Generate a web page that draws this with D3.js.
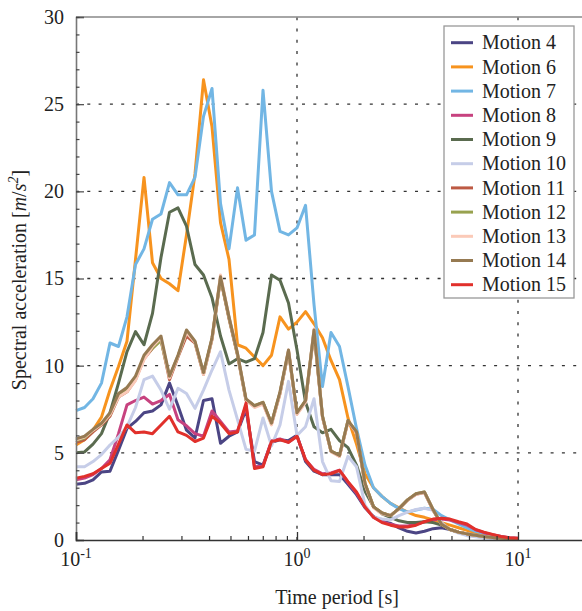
<!DOCTYPE html>
<html>
<head>
<meta charset="utf-8">
<script src="https://cdn.jsdelivr.net/npm/d3@7"></script>
<style>
  body { margin: 0; background: #fff; }
  svg { display: block; }
  svg text { font-family: "Liberation Serif", "DejaVu Serif", serif !important; fill: #222; }
</style>
</head>
<body>
<svg id="chart" width="582" height="611" style="font-family: 'Liberation Serif', 'DejaVu Serif', serif;"></svg>
<script>
// Spectral periods [s], log-spaced from 0.1 s to 10 s
const periods = [
  0.1000, 0.1093, 0.1194, 0.1304, 0.1425, 0.1557, 0.1701, 0.1859, 0.2031, 0.2219,
  0.2424, 0.2649, 0.2894, 0.3162, 0.3455, 0.3775, 0.4125, 0.4507, 0.4924, 0.5380,
  0.5878, 0.6422, 0.7017, 0.7667, 0.8377, 0.9152, 1.000, 1.093, 1.194, 1.304,
  1.425, 1.557, 1.701, 1.859, 2.031, 2.219, 2.424, 2.649, 2.894, 3.162,
  3.455, 3.775, 4.125, 4.507, 4.924, 5.380, 5.878, 6.422, 7.017, 7.667,
  8.377, 9.152, 10.00
];

// Spectral acceleration [m/s^2] for each ground motion
const motion4 = [
  3.2, 3.25, 3.45, 3.9, 3.95, 5.15, 6.4, 6.8, 7.3, 7.4,
  7.75, 9.0, 7.7, 6.3, 5.85, 8.0, 8.1, 5.55, 5.95, 6.2,
  7.5, 4.5, 4.3, 5.6, 5.75, 5.7, 6.0, 4.5, 3.95, 3.75,
  3.75, 3.75, 3.2, 2.6, 1.85, 1.35, 1.1, 0.95, 0.7, 0.5,
  0.4, 0.5, 0.65, 0.7, 0.6, 0.45, 0.35, 0.25, 0.18, 0.12,
  0.08, 0.05, 0.03
];
const motion6 = [
  5.45, 5.75, 6.3, 7.05, 8.6, 9.95, 11.4, 16.1, 20.8, 15.9,
  15.0, 14.7, 14.3, 17.5, 21.0, 26.4, 23.7, 18.2, 16.1, 11.2,
  11.0, 10.5, 10.0, 10.6, 12.8, 12.1, 12.5, 13.1, 12.4, 11.6,
  10.3, 9.2, 7.0, 5.5, 3.8, 3.0, 2.5, 2.1, 1.85, 1.6,
  1.4, 1.3, 1.15, 1.0, 0.85, 0.7, 0.55, 0.42, 0.3, 0.22,
  0.15, 0.1, 0.07
];
const motion7 = [
  7.42, 7.6, 8.1, 9.0, 11.3, 11.1, 12.8, 15.8, 16.7, 18.4,
  18.7, 20.5, 19.8, 19.8, 20.8, 24.3, 25.9, 19.3, 16.7, 20.2,
  17.2, 17.5, 25.8, 20.0, 17.7, 17.5, 17.9, 19.2, 13.5, 8.8,
  11.9, 11.1, 8.8, 6.4, 4.3, 3.0, 2.5, 2.1, 1.8, 1.6,
  1.72, 1.82, 1.76, 1.4, 1.15, 0.92, 0.7, 0.5, 0.38, 0.28,
  0.2, 0.12, 0.08
];
const motion8 = [
  3.45, 3.55, 3.75, 4.1, 4.6, 6.1, 7.75, 8.0, 8.2, 7.8,
  8.0, 8.35, 6.9, 6.55, 6.1, 5.95, 7.4, 6.8, 6.2, 6.25,
  7.7, 4.2, 4.25, 5.7, 5.8, 5.6, 5.95, 4.6, 4.05, 3.8,
  3.85, 4.0, 3.3, 2.7, 1.9, 1.3, 1.05, 0.9, 0.8, 0.8,
  0.9, 1.05, 1.15, 1.2, 1.15, 1.0, 0.85, 0.6, 0.42, 0.3,
  0.2, 0.13, 0.1
];
const motion9 = [
  5.0, 5.05, 5.5, 6.1, 7.3, 9.0, 10.8, 11.95, 11.2, 13.0,
  16.2, 18.8, 19.05, 18.0, 15.8, 15.2, 13.9, 11.7, 10.1, 10.4,
  10.2, 10.4, 11.9, 15.2, 14.9, 13.6, 10.9, 7.9, 6.5, 6.15,
  6.35, 5.7, 5.3, 4.3, 2.8, 1.9, 1.5, 1.3, 1.1, 1.0,
  1.0, 1.05, 1.0, 0.85, 0.6, 0.45, 0.35, 0.25, 0.18, 0.12,
  0.08, 0.05, 0.03
];
const motion10 = [
  4.2, 4.2, 4.5, 4.9, 5.45, 5.9, 6.5, 7.6, 9.2, 9.4,
  8.6, 7.5, 8.7, 8.4, 7.55, 8.6, 9.75, 10.8, 8.6, 6.9,
  5.2, 5.1, 7.0, 5.4, 6.6, 9.1, 6.0, 6.5, 8.1, 4.5,
  3.4, 3.35, 4.8, 4.2, 2.0, 1.3, 1.2, 1.15, 1.4, 1.6,
  1.75, 1.82, 1.7, 1.0, 0.6, 0.4, 0.25, 0.18, 0.12, 0.08,
  0.05, 0.04, 0.03
];
const motion11 = [
  5.6, 5.75, 6.2, 6.6, 7.1, 8.2, 8.5, 9.2, 10.4, 11.0,
  11.5, 9.2, 10.5, 11.7, 11.3, 9.5, 11.5, 15.0, 12.7, 10.6,
  8.0, 7.65, 7.85, 6.65, 8.4, 10.8, 7.25, 7.95, 11.9, 7.05,
  5.1, 4.8, 6.8, 6.15, 3.2, 1.9, 1.55, 1.4, 1.8, 2.28,
  2.62, 2.72, 1.72, 0.9, 0.6, 0.45, 0.35, 0.27, 0.2, 0.15,
  0.1, 0.07, 0.05
];
const motion12 = [
  5.7, 5.85, 6.3, 6.65, 7.2, 8.3, 8.65, 9.3, 10.5, 11.0,
  11.45, 9.35, 10.55, 11.95, 11.35, 9.55, 11.55, 15.05, 12.75, 10.65,
  8.05, 7.7, 7.9, 6.7, 8.45, 10.85, 7.3, 8.0, 12.0, 7.1,
  5.1, 4.85, 6.85, 6.2, 3.25, 1.9, 1.55, 1.4, 1.8, 2.3,
  2.65, 2.75, 1.75, 0.9, 0.6, 0.45, 0.35, 0.27, 0.2, 0.15,
  0.1, 0.07, 0.05
];
const motion13 = [
  5.75, 5.9, 6.3, 6.65, 7.2, 8.2, 8.5, 9.15, 10.35, 11.1,
  11.6, 9.3, 10.55, 11.9, 11.35, 9.5, 11.5, 15.2, 12.8, 10.7,
  8.05, 7.6, 7.8, 6.6, 8.4, 10.9, 7.2, 7.9, 12.1, 7.05,
  5.05, 4.8, 6.8, 6.15, 3.2, 1.85, 1.5, 1.4, 1.78, 2.28,
  2.62, 2.72, 1.72, 0.9, 0.6, 0.45, 0.35, 0.27, 0.2, 0.15,
  0.1, 0.07, 0.05
];
const motion14 = [
  5.8, 5.95, 6.35, 6.7, 7.3, 8.4, 8.75, 9.4, 10.6, 11.2,
  11.7, 9.4, 10.6, 12.05, 11.4, 9.6, 11.6, 15.1, 12.8, 10.7,
  8.1, 7.7, 7.9, 6.7, 8.5, 10.9, 7.3, 8.0, 12.05, 7.1,
  5.1, 4.85, 6.85, 6.2, 3.25, 1.9, 1.55, 1.4, 1.8, 2.3,
  2.65, 2.75, 1.75, 0.9, 0.6, 0.45, 0.35, 0.27, 0.2, 0.15,
  0.1, 0.07, 0.05
];
const motion15 = [
  3.55, 3.65, 3.8, 4.1, 4.4, 5.5, 6.6, 6.15, 6.2, 6.1,
  6.6, 7.1, 6.2, 6.0, 5.65, 5.85, 7.1, 6.7, 6.1, 6.2,
  7.85, 4.1, 4.2, 5.65, 5.75, 5.6, 5.95, 4.6, 4.0, 3.75,
  3.8, 4.0, 3.35, 2.75, 1.9, 1.3, 1.0, 0.85, 0.75, 0.75,
  0.85, 1.05, 1.2, 1.25, 1.2, 1.05, 0.92, 0.6, 0.45, 0.32,
  0.2, 0.13, 0.1
];

const seriesNames = ["Motion 4", "Motion 6", "Motion 7", "Motion 8", "Motion 9", "Motion 10",
                     "Motion 11", "Motion 12", "Motion 13", "Motion 14", "Motion 15"];
const seriesValues = [motion4, motion6, motion7, motion8, motion9, motion10,
                      motion11, motion12, motion13, motion14, motion15];
const seriesColors = ["#4b4584", "#f7931e", "#72b6e4", "#c7427f", "#5a6b4f", "#c6cde8",
                      "#bd5a44", "#98a24f", "#fbcab8", "#967a52", "#e1302b"];

const yTicks = [0, 5, 10, 15, 20, 25, 30];
const yMinorTicks = d3.range(0, 31, 1);
const xMajorTicks = [0.1, 1, 10];
const xTickExponents = ["-1", "0", "1"];
const xMinorTicks = [0.2, 0.3, 0.4, 0.5, 0.6, 0.7, 0.8, 0.9, 2, 3, 4, 5, 6, 7, 8, 9, 20];

(function drawChart() {
  const FONT = "'Liberation Serif', 'DejaVu Serif', serif";
  const svg = d3.select("#chart");
  const plotLeft = 76, plotTop = 17, plotBottom = 540, plotRight = 582;

  const x = d3.scaleLog().domain([0.1, 20]).range([plotLeft, plotLeft + 221 * Math.log10(200)]);
  const y = d3.scaleLinear().domain([0, 30]).range([plotBottom, plotTop]);

  // dotted grid
  const grid = svg.append("g").attr("stroke", "#333").attr("stroke-width", 1.3)
    .attr("stroke-dasharray", "3,8.3");
  grid.selectAll("line.h").data(yTicks.filter(v => v > 0 && v < 30)).join("line")
    .attr("class", "h")
    .attr("x1", plotLeft).attr("x2", plotRight)
    .attr("y1", d => y(d)).attr("y2", d => y(d));
  grid.selectAll("line.v").data([1, 10]).join("line")
    .attr("class", "v")
    .attr("x1", d => x(d)).attr("x2", d => x(d))
    .attr("y1", plotBottom).attr("y2", plotTop);

  // top frame edge
  svg.append("line").attr("x1", plotLeft).attr("x2", plotRight)
    .attr("y1", plotTop).attr("y2", plotTop)
    .attr("stroke", "#888").attr("stroke-width", 1.3);

  // response spectra
  const line = d3.line().x((d, i) => x(periods[i])).y(d => y(d));
  svg.append("g").selectAll("path").data(seriesValues).join("path")
    .attr("d", d => line(d))
    .attr("fill", "none")
    .attr("stroke", (d, i) => seriesColors[i])
    .attr("stroke-width", 3)
    .attr("stroke-linejoin", "round");

  // left axis
  const yAxis = svg.append("g").attr("transform", `translate(${plotLeft},0)`)
    .call(d3.axisLeft(y).tickValues(yTicks).tickSize(-8).tickPadding(12))
    .attr("font-family", FONT).attr("font-size", 20);
  yAxis.select(".domain").attr("stroke", "#777").attr("stroke-width", 1.6);
  yAxis.selectAll(".tick line").attr("stroke", "#555").attr("stroke-width", 1.3);
  yAxis.selectAll("text").attr("fill", "#222");
  svg.append("g").attr("transform", `translate(${plotLeft},0)`)
    .call(d3.axisLeft(y).tickValues(yMinorTicks).tickSize(-3.5).tickFormat(""))
    .call(g => g.select(".domain").remove())
    .call(g => g.selectAll(".tick line").attr("stroke", "#444").attr("stroke-width", 1.2));

  // bottom axis
  const xAxis = svg.append("g").attr("transform", `translate(0,${plotBottom})`)
    .call(d3.axisBottom(x).tickValues(xMajorTicks).tickSize(-8).tickFormat(""));
  xAxis.select(".domain").attr("stroke", "#333").attr("stroke-width", 1.6);
  xAxis.selectAll(".tick line").attr("stroke", "#333").attr("stroke-width", 1.3);
  svg.append("g").attr("transform", `translate(0,${plotBottom})`)
    .call(d3.axisBottom(x).tickValues(xMinorTicks).tickSize(-4).tickFormat(""))
    .call(g => g.select(".domain").remove())
    .call(g => g.selectAll(".tick line").attr("stroke", "#333").attr("stroke-width", 1.2));

  const xLabels = svg.append("g").attr("font-family", FONT);
  xMajorTicks.forEach((v, i) => {
    const t = xLabels.append("text")
      .attr("x", x(v)).attr("y", 566)
      .attr("text-anchor", "middle").attr("font-size", 20);
    t.append("tspan").text("10");
    t.append("tspan").attr("dy", -8).attr("font-size", 14).text(xTickExponents[i]);
  });

  // axis titles
  svg.append("text")
    .attr("x", 337).attr("y", 604)
    .attr("font-family", FONT)
    .attr("text-anchor", "middle").attr("font-size", 20)
    .text("Time period [s]");

  const yTitle = svg.append("text")
    .attr("transform", "translate(26,280) rotate(-90)")
    .attr("font-family", FONT)
    .attr("text-anchor", "middle").attr("font-size", 20);
  yTitle.append("tspan").text("Spectral acceleration [");
  yTitle.append("tspan").attr("font-style", "italic").text("m");
  yTitle.append("tspan").text("/");
  yTitle.append("tspan").attr("font-style", "italic").text("s");
  yTitle.append("tspan").attr("dy", -8).attr("font-size", 14).attr("font-style", "italic").text("2");
  yTitle.append("tspan").attr("dy", 8).text("]");

  // legend
  const legend = svg.append("g").attr("font-family", FONT);
  legend.append("rect")
    .attr("x", 444).attr("y", 26).attr("width", 130).attr("height", 272)
    .attr("fill", "#fff").attr("stroke", "#999").attr("stroke-width", 1.3);
  const rowH = 24.2;
  const items = legend.selectAll("g.item").data(seriesNames).join("g")
    .attr("class", "item")
    .attr("transform", (d, i) => `translate(0,${42.7 + i * rowH})`);
  items.append("line")
    .attr("x1", 451).attr("x2", 473)
    .attr("stroke", (d, i) => seriesColors[i]).attr("stroke-width", 3);
  items.append("text")
    .attr("x", 482).attr("dy", "0.33em").attr("font-size", 20)
    .text(d => d);
})();
</script>
</body>
</html>
